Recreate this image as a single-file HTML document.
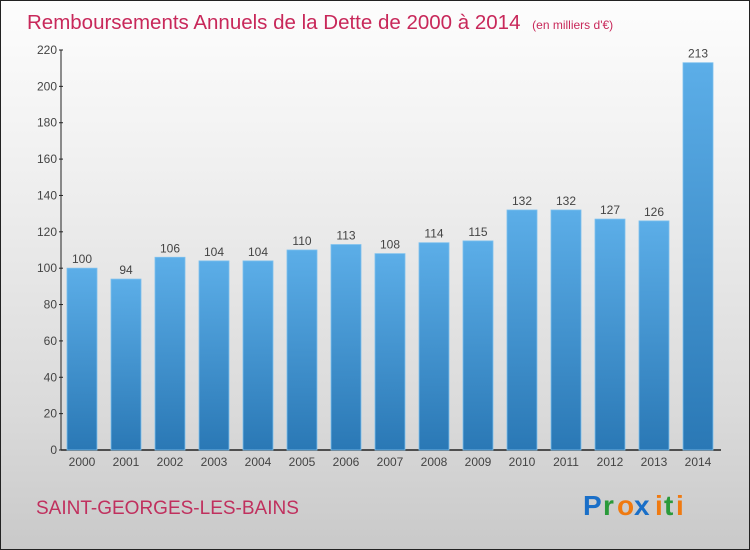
<!DOCTYPE html>
<html><head><meta charset="utf-8"><style>
html,body{margin:0;padding:0}
body{width:750px;height:550px;overflow:hidden;font-family:"Liberation Sans",sans-serif}
#frame{position:absolute;left:0;top:0;width:748px;height:548px;border:1px solid #222;background:linear-gradient(#fdfdfd,#f0f0f0 30%,#dadada 75%,#c9c9c9)}
</style></head><body>
<div id="frame"></div>
<svg id="chart" width="750" height="550" style="position:absolute;left:0;top:0">
<defs><linearGradient id="bg" x1="0" y1="0" x2="0" y2="1"><stop offset="0" stop-color="#5caee8"/><stop offset="1" stop-color="#2a78b5"/></linearGradient></defs>
<text x="27" y="29" font-size="20.5" fill="#c8285a">Remboursements Annuels de la Dette de 2000 à 2014 <tspan font-size="12" dx="6">(en milliers d'€)</tspan></text>
<text x="36" y="514" font-size="19" fill="#c0305e">SAINT-GEORGES-LES-BAINS</text>
<g font-size="28" font-weight="bold" font-family="Liberation Sans, sans-serif">
<text x="583" y="515" fill="#1a6fc8">P</text><text x="603" y="515" fill="#2a9a3a">r</text><text x="617" y="515" fill="#f07a10">o</text><text x="634" y="515" fill="#1a6fc8">x</text><text x="655" y="515" fill="#f07a10">i</text><text x="664" y="515" fill="#2a9a3a">t</text><text x="676" y="515" fill="#f07a10">i</text></g>
<g id="axes"></g><g id="bars"></g>
</svg>
<script>
const categories=["2000","2001","2002","2003","2004","2005","2006","2007","2008","2009","2010","2011","2012","2013","2014"];
const values=[100,94,106,104,104,110,113,108,114,115,132,132,127,126,213];
const yTicks=[0,20,40,60,80,100,120,140,160,180,200,220];
const NS="http://www.w3.org/2000/svg";
const x0=61,x1=721,yBase=450,yTop=50,yMax=220;
const y=v=>yBase-(v/yMax)*(yBase-yTop);
const xc=i=>82+i*44;
function mk(t,a,p){const e=document.createElementNS(NS,t);for(const k in a)e.setAttribute(k,a[k]);p.appendChild(e);return e;}
const ax=document.getElementById('axes'),bars=document.getElementById('bars');
let l=mk('line',{x1:x0,y1:yTop,x2:x0,y2:yBase,stroke:'#222','stroke-width':1},ax);


l=mk('line',{x1:x0,y1:yBase,x2:x1,y2:yBase,stroke:'#222','stroke-width':1.5},ax);


yTicks.forEach(v=>{
 const t=mk('line',{x1:x0-2,y1:y(v),x2:x0+2,y2:y(v),stroke:'#222'},ax);
 
 
 const tx=mk('text',{x:x0-4,y:y(v)+4,'font-size':12,fill:'#444','text-anchor':'end'},ax);
 tx.textContent=v;
 
 
});
categories.forEach((c,i)=>{
 const v=values[i];
 const r=mk('rect',{x:xc(i)-15,y:y(v),width:30,height:yBase-y(v),fill:'url(#bg)',stroke:'#7cc0ee','stroke-width':0.8},bars);
 
 
 const vl=mk('text',{x:xc(i),y:y(v)-5,'font-size':12,fill:'#444','text-anchor':'middle'},bars);
 vl.textContent=v;
 
 
 const xl=mk('text',{x:xc(i),y:466,'font-size':12,fill:'#444','text-anchor':'middle'},bars);
 xl.textContent=c;
 
 
});
</script>
</body></html>
